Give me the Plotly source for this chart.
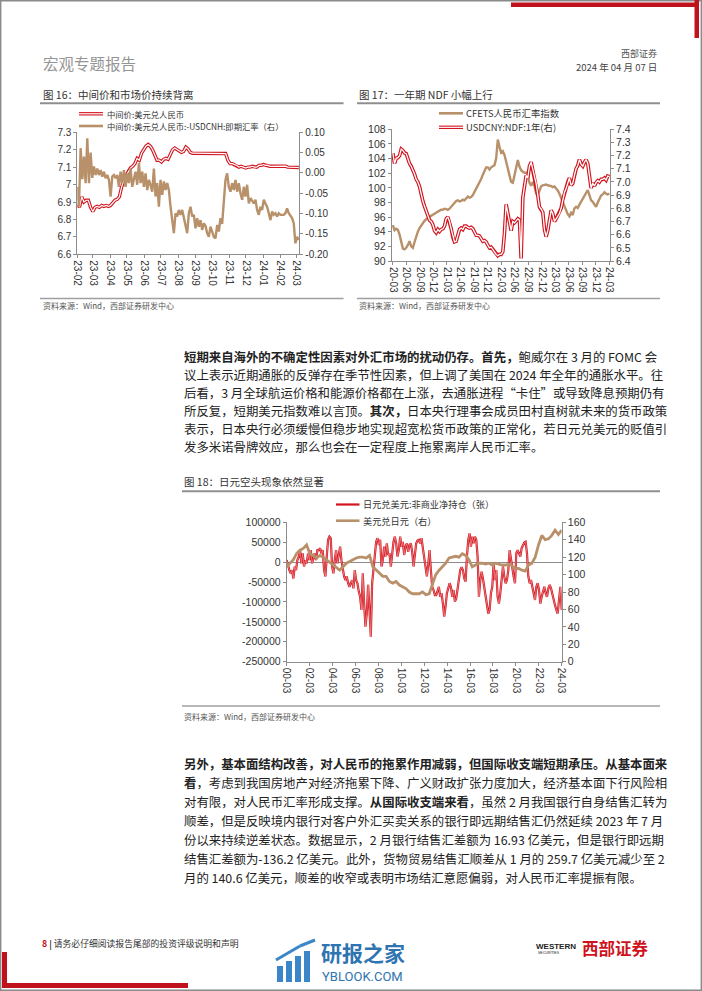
import pandas as pd
import plotly.graph_objects as go

# ---------------- DATA ----------------
# Figure 16 : CNY central parity (left) and parity minus USDCNH spot (right)
c16_ticks = ["23-02", "23-03", "23-04", "23-05", "23-06", "23-07", "23-08",
             "23-09", "23-10", "23-11", "23-12", "24-01", "24-02", "24-03"]
c16_left_labels = ["6.6", "6.7", "6.8", "6.9", "7", "7.1", "7.2", "7.3"]
c16_right_labels = ["-0.20", "-0.15", "-0.10", "-0.05", "0.00", "0.05", "0.10"]
c16_mid = [6.89, 6.87, 6.93, 6.90, 6.91, 6.91, 6.87, 6.845, 6.87, 6.875,
           6.87, 6.88, 6.875, 6.88, 6.875, 6.88, 6.895, 6.91, 6.915, 6.93,
           6.985, 7.025, 7.05, 7.075, 7.095, 7.105, 7.12, 7.15, 7.14, 7.18,
           7.20, 7.22, 7.23, 7.22, 7.20, 7.165, 7.14, 7.14, 7.13, 7.145,
           7.15, 7.145, 7.17, 7.20, 7.21, 7.20, 7.19, 7.185, 7.19, 7.215,
           7.205, 7.185, 7.18, 7.18, 7.181, 7.18, 7.179, 7.18, 7.18, 7.181,
           7.18, 7.179, 7.18, 7.18, 7.18, 7.181, 7.18, 7.178, 7.14, 7.12,
           7.12, 7.115, 7.11, 7.10, 7.105, 7.10, 7.095, 7.10, 7.10, 7.105,
           7.10, 7.10, 7.11, 7.11, 7.115, 7.11, 7.11, 7.105, 7.105, 7.105,
           7.105, 7.105, 7.105, 7.106, 7.106, 7.10, 7.10, 7.10, 7.10, 7.098,
           7.098]
c16_spread = [-0.034, -0.083, 0.061, -0.015, 0.040, -0.025, 0.085, -0.025, 0.050, -0.012,
              0.016, -0.005, 0.011, -0.005, 0.007, -0.009, 0.003, -0.013, -0.005, -0.017,
              -0.058, -0.009, -0.005, -0.013, -0.005, -0.034, 0.003, -0.025, 0.007, -0.034,
              -0.001, -0.025, 0.011, -0.034, -0.015, 0.003, -0.029, 0.024, -0.025, 0.003,
              -0.034, -0.001, -0.042, -0.017, -0.030, -0.046, 0.011, -0.058, -0.025, -0.083,
              -0.017, -0.054, -0.021, -0.042, -0.025, -0.042, -0.083, -0.116, -0.148, -0.099,
              -0.107, -0.091, -0.103, -0.091, -0.111, -0.130, -0.148, -0.099, -0.083, -0.107,
              -0.103, -0.136, -0.111, -0.132, -0.116, -0.140, -0.124, -0.130, -0.148, -0.157,
              -0.132, -0.144, -0.157, -0.161, -0.128, -0.144, -0.111, -0.125, -0.075, -0.017,
              -0.001, -0.034, -0.046, -0.025, -0.042, -0.017, -0.046, -0.025, -0.050, -0.066,
              -0.034, -0.058, -0.029, -0.075, -0.062, -0.070, -0.075, -0.066, -0.091, -0.103,
              -0.083, -0.091, -0.066, -0.075, -0.083, -0.099, -0.116, -0.095, -0.103, -0.099,
              -0.107, -0.099, -0.103, -0.103, -0.103, -0.099, -0.087, -0.099, -0.107, -0.111,
              -0.124, -0.173, -0.157, -0.165]

# Figure 17 : CFETS index (left) and USDCNY 1Y NDF (right)
c17_ticks = ["20-03", "20-06", "20-09", "20-12", "21-03", "21-06", "21-09", "21-12",
             "22-03", "22-06", "22-09", "22-12", "23-03", "23-06", "23-09", "23-12", "24-03"]
c17_left_labels = ["90", "92", "94", "96", "98", "100", "102", "104", "106", "108"]
c17_right_labels = ["6.4", "6.5", "6.6", "6.7", "6.8", "6.9", "7.0", "7.1", "7.2", "7.3", "7.4"]
c17_cfets = [94.9, 94.2, 94.4, 94.25, 93.6, 92.5, 91.7, 91.6, 91.8, 92.2,
             92.7, 92.0, 91.8, 92.6, 93.5, 94.0, 94.5, 94.9, 95.3, 95.5,
             95.7, 95.8, 96.0, 96.2, 96.3, 96.45, 96.6, 96.75, 96.9, 97.0,
             97.0, 97.15, 97.1, 97.0, 97.15, 97.4, 97.7, 98.0, 98.2, 98.3,
             98.15, 98.2, 98.4, 98.3, 98.5, 98.8, 98.65, 98.75, 99.0, 99.4,
             99.8, 100.2, 100.6, 101.2, 101.8, 102.4, 102.8, 102.8, 102.5, 102.8,
             103.0, 103.1, 104.0, 106.6, 105.6, 104.8, 105.0, 104.5, 103.6, 102.8,
             101.7, 100.8, 100.7, 101.7, 102.7, 103.8, 102.9, 102.4, 102.2, 102.05,
             102.1, 101.8, 100.7, 100.3, 100.8, 100.3, 99.2, 99.0, 99.6, 100.2,
             100.35, 100.45, 100.45, 100.35, 100.35, 100.25, 100.1, 100.2, 99.9, 99.65,
             99.2, 98.65, 98.0, 97.35, 97.0, 96.4, 96.1, 96.6, 96.3, 97.2,
             97.4, 97.25, 97.7, 98.1, 98.5, 98.9, 99.5, 99.7, 99.0, 98.3,
             98.1, 97.8, 97.4, 98.0, 98.6, 98.95, 99.1, 99.4, 99.2, 99.1,
             99.2]
c17_ndf = [7.218, 7.14, 7.18, 7.185, 7.20, 7.25, 7.24, 7.22, 7.215, 7.175,
           7.14, 7.12, 7.095, 7.06, 7.02, 7.00, 6.965, 6.90, 6.855, 6.815,
           6.775, 6.74, 6.71, 6.70, 6.675, 6.63, 6.615, 6.64, 6.625, 6.64,
           6.645, 6.665, 6.72, 6.735, 6.70, 6.645, 6.58, 6.545, 6.55, 6.60,
           6.64, 6.65, 6.64, 6.665, 6.665, 6.655, 6.65, 6.655, 6.645, 6.62,
           6.595, 6.595, 6.59, 6.57, 6.55, 6.555, 6.545, 6.52, 6.50, 6.505,
           6.49, 6.47, 6.45, 6.44, 6.45, 6.45, 6.47, 6.61, 6.83, 6.76,
           6.70, 6.63, 6.70, 6.69, 6.705, 6.72, 6.71, 6.42, 6.88, 6.97,
           7.05, 7.03, 7.12, 7.15, 7.09, 7.045, 6.99, 6.90, 6.81, 6.795,
           6.77, 6.64, 6.585, 6.63, 6.72, 6.785, 6.76, 6.70, 6.72, 6.745,
           6.76, 6.80, 6.865, 6.92, 6.95, 7.00, 7.03, 6.975, 6.99, 7.05,
           7.10, 7.125, 7.17, 7.135, 7.12, 7.15, 7.17, 7.14, 7.03, 6.955,
           6.99, 6.97, 6.995, 7.01, 7.00, 7.02, 7.02, 7.03, 7.015, 7.045,
           7.04]

# Figure 18 : JPY non-commercial net positions (left) and USDJPY (right)
c18_ticks = ["00-03", "02-03", "04-03", "06-03", "08-03", "10-03", "12-03",
             "14-03", "16-03", "18-03", "20-03", "22-03", "24-03"]
c18_left_labels = ["-250000", "-200000", "-150000", "-100000", "-50000", "0", "50000", "100000"]
c18_right_labels = ["0", "20", "40", "60", "80", "100", "120", "140", "160"]
c18_net = [5000, -11000, -20000, -28000, -20000, -41000, -11000, -20000, 5000, 14000,
           30000, -3000, 22000, -11000, 5000, -3000, 22000, 5000, 30000, -3000,
           14000, 22000, 5000, 30000, 30000, 35000, 22000, 30000, -20000, -36000,
           14000, 56000, 64000, 60000, -11000, -28000, 5000, 30000, -3000, 22000,
           39000, 5000, -20000, -36000, -45000, -36000, -53000, -62000, -53000, -45000,
           -66000, -20000, -45000, -53000, -74000, -87000, -120000, -28000, -104000, -162000,
           -129000, -57000, -120000, -187000, -53000, -20000, 18000, 51000, 60000, 43000,
           56000, -11000, 5000, 39000, 14000, 47000, 18000, 22000, -11000, 22000,
           51000, 64000, 47000, 14000, 30000, 64000, 39000, 51000, 18000, 39000,
           47000, 26000, 43000, 47000, 26000, -11000, 18000, 47000, 54000, 56000,
           47000, 60000, 35000, 9500, -20000, -36000, -7000, 30000, -20000, -62000,
           -70000, -83000, -83000, -70000, -62000, -87000, -78000, -104000, -137000, -112000,
           -78000, -66000, -53000, -62000, -87000, -70000, -99000, -91000, -66000, -41000,
           -20000, -13000, -20000, -41000, -49000, 14000, 56000, 72000, 39000, 64000,
           47000, 64000, 56000, 14000, -87000, -45000, -24000, -41000, -66000, -91000,
           -112000, -129000, -120000, -78000, -62000, -3000, -45000, -20000, -87000, -104000,
           -78000, -45000, -11000, -36000, -53000, -45000, -20000, 30000, 5000, -20000,
           -36000, -53000, 22000, 30000, 22000, 14000, 35000, 43000, 49000, 51000,
           22000, -36000, -53000, -45000, -62000, -70000, -95000, -62000, -53000, -70000,
           -104000, -87000, -70000, -62000, -78000, -87000, -66000, -57000, -66000, -83000,
           -95000, -108000, -120000, -129000, -95000, -62000, -120000]
c18_usdjpy = [109, 113, 117, 124, 128, 130, 134, 124, 122, 119,
              122, 120, 117, 113, 111, 107, 105, 109, 113, 115,
              117, 119, 120, 120, 119, 122, 109, 105, 101, 98,
              98, 92, 90, 92, 88, 86, 84, 80, 78, 78,
              78, 80, 77, 78, 90, 100, 105, 109, 113, 119,
              120, 121, 120, 124, 122, 117, 109, 111, 113, 113,
              112, 113, 111, 113, 112, 111, 111, 112, 110, 107,
              107, 105, 104, 111, 113, 120, 134, 145, 140, 141,
              145, 151, 146, 151]

# ---------------- STYLE / HELPERS ----------------
W, H = 702, 991
RED = "#D2141E"
BROWN = "#B8916A"
AX = "#8C8C8C"
TXT = "#333333"
CJK = "Noto Sans CJK SC"
LAT = "Liberation Sans, Arial, sans-serif"


def px(x):
    return x / W


def py(y):
    return 1 - y / H


def tick_dates(labels):
    return ["20" + t[:2] + "-" + t[3:] + "-01" for t in labels]


fig = go.Figure()


def line_trace(x, y, xa, ya, color, width):
    fig.add_trace(go.Scatter(x=x, y=y, xaxis=xa, yaxis=ya, mode="lines",
                             line=dict(color=color, width=width), hoverinfo="skip",
                             showlegend=False))


# chart 16
d16a = pd.date_range("2023-02-01", "2024-03-05", periods=len(c16_mid))
d16b = pd.date_range("2023-02-01", "2024-03-05", periods=len(c16_spread))
line_trace(d16a, c16_mid, "x", "y", RED, 3.4)
line_trace(d16a, c16_mid, "x", "y", "white", 1.2)
line_trace(d16b, c16_spread, "x", "y2", BROWN, 2.4)

# chart 17
d17a = pd.date_range("2020-03-01", "2024-03-01", periods=len(c17_cfets))
d17b = pd.date_range("2020-03-01", "2024-03-01", periods=len(c17_ndf))
line_trace(d17a, c17_cfets, "x2", "y3", BROWN, 2.4)
line_trace(d17b, c17_ndf, "x2", "y4", RED, 3.6)
line_trace(d17b, c17_ndf, "x2", "y4", "white", 1.3)

# chart 18
d18a = pd.date_range("2000-03-01", "2024-03-01", periods=len(c18_net))
d18b = pd.date_range("2000-03-01", "2024-03-01", periods=len(c18_usdjpy))
line_trace(d18a, c18_net, "x3", "y5", RED, 2.2)
line_trace(d18a, c18_net, "x3", "y5", "#F29A9A", 0.7)
line_trace(d18b, c18_usdjpy, "x3", "y6", BROWN, 2.8)

xbase = dict(type="date", showline=True, linecolor=AX, linewidth=1, ticks="outside",
             ticklen=3, tickcolor=AX, showgrid=False, zeroline=False, tickangle=90,
             automargin=False, tickfont=dict(family=LAT, size=10, color=TXT))
ybase = dict(showline=True, linecolor=AX, linewidth=1, ticks="outside", ticklen=3,
             tickcolor=AX, showgrid=False, zeroline=False, automargin=False,
             tickfont=dict(family=LAT, size=10.5, color=TXT))


def yax(labels, rng, **kw):
    d = dict(ybase)
    d.update(range=rng, tickmode="array", tickvals=[float(t) for t in labels], ticktext=labels)
    d.update(kw)
    return d


def xax(labels, rng, **kw):
    d = dict(xbase)
    d.update(range=rng, tickmode="array", tickvals=tick_dates(labels), ticktext=labels)
    d.update(kw)
    return d


fig.update_layout(
    width=W, height=H, margin=dict(l=0, r=0, t=0, b=0), template="none",
    paper_bgcolor="white", plot_bgcolor="rgba(0,0,0,0)", showlegend=False, hovermode=False,
    xaxis=xax(c16_ticks, ["2023-02-01", "2024-03-06"], domain=[px(77.3), px(299.3)], anchor="y"),
    yaxis=yax(c16_left_labels, [6.6, 7.3], domain=[py(254.3), py(132.3)], anchor="x",
              tickfont=dict(family=LAT, size=10, color=TXT)),
    yaxis2=yax(c16_right_labels, [-0.2, 0.1], overlaying="y", side="right", anchor="x",
               tickfont=dict(family=LAT, size=10, color=TXT)),
    xaxis2=xax(c17_ticks, ["2020-02-22", "2024-03-05"], domain=[px(391.7), px(610)], anchor="y3"),
    yaxis3=yax(c17_left_labels, [90, 108], domain=[py(261), py(129.3)], anchor="x2"),
    yaxis4=yax(c17_right_labels, [6.4, 7.4], overlaying="y3", side="right", anchor="x2"),
    xaxis3=xax(c18_ticks, ["2000-03-01", "2024-03-01"], domain=[px(286.7), px(561.7)], anchor="y5"),
    yaxis5=yax(c18_left_labels, [-250000, 100000], domain=[py(661.7), py(522.3)], anchor="x3",
               zeroline=True, zerolinecolor=AX, zerolinewidth=1),
    yaxis6=yax(c18_right_labels, [0, 160], overlaying="y5", side="right", anchor="x3"),
)


# ---------------- DECORATION ----------------
def hline(x0, x1, y, color="#9A9A9A", w=1.5):
    fig.add_shape(type="line", xref="paper", yref="paper", x0=px(x0), x1=px(x1),
                  y0=py(y), y1=py(y), line=dict(color=color, width=w))


def rect(x0, y0, x1, y1, color):
    fig.add_shape(type="rect", xref="paper", yref="paper", x0=px(x0), x1=px(x1),
                  y0=py(y1), y1=py(y0), fillcolor=color, line_width=0)


def text(x, y, s, size, color=TXT, anchor="left", family=CJK):
    fig.add_annotation(x=px(x), y=py(y), xref="paper", yref="paper", text=s, showarrow=False,
                       xanchor=anchor, yanchor="middle", borderpad=0,
                       font=dict(family=family, size=size, color=color))


def swatch(x0, x1, y, kind):
    if kind == "double":
        hline(x0, x1, y, RED, 3.4)
        hline(x0, x1, y, "white", 1.2)
    elif kind == "red":
        hline(x0, x1, y, RED, 2.2)
    else:
        hline(x0, x1, y, BROWN, 2.6)


# page frame and corner marks
fig.add_shape(type="rect", xref="paper", yref="paper", x0=px(0.7), x1=px(701.3),
              y0=py(990.3), y1=py(0.7), line=dict(color="#8A8A8A", width=1.4))
rect(511, 2.5, 699, 7, "#C0121C")
rect(694.5, 0, 699, 38, "#C0121C")
rect(2, 952, 7, 988, "#C0121C")
rect(2, 983, 188, 988, "#C0121C")

# header
text(42, 63.3, "宏观专题报告", 15.5, "#959595")
text(658, 53, "西部证券", 9, "#555555", anchor="right")
text(658, 66.7, "2024 年 04 月 07 日", 9.5, "#444444", anchor="right")

# figure 16 / 17 titles and rules
text(42, 94.5, "图 16：中间价和市场价持续背离", 10.5)
text(358, 94.5, "图 17：一年期 NDF 小幅上行", 10.5)
hline(40, 343.5, 103.3, "#8F8F8F", 2)
hline(357, 660, 103.3, "#8F8F8F", 2)
hline(40, 343.5, 298.5, "#A0A0A0", 1.5)
hline(357, 660, 298.5, "#A0A0A0", 1.5)
text(42, 305.5, "资料来源：Wind，西部证券研发中心", 8, "#555555")
text(358, 305.5, "资料来源：Wind，西部证券研发中心", 8, "#555555")

# legends figure 16
swatch(79, 103, 113.8, "double")
text(106, 113.8, "中间价:美元兑人民币", 8.3)
swatch(79, 103, 126.0, "brown")
text(106, 126.0, "中间价:美元兑人民币:-USDCNH:即期汇率（右）", 8.3)
# legends figure 17
swatch(439, 463, 113.3, "brown")
text(465, 113.3, "CFETS人民币汇率指数", 9.4)
swatch(439, 463, 127.3, "double")
text(465, 127.3, "USDCNY:NDF:1年(右)", 9.4)

# paragraph 1
p1 = [
    "<b>短期来自海外的不确定性因素对外汇市场的扰动仍存。首先，</b>鲍威尔在 3 月的 FOMC 会",
    "议上表示近期通胀的反弹存在季节性因素，但上调了美国在 2024 年全年的通胀水平。往",
    "后看，3 月全球航运价格和能源价格都在上涨，去通胀进程“卡住”或导致降息预期仍有",
    "所反复，短期美元指数难以言顶。<b>其次，</b>日本央行理事会成员田村直树就未来的货币政策",
    "表示，日本央行必须缓慢但稳步地实现超宽松货币政策的正常化，若日元兑美元的贬值引",
    "发多米诺骨牌效应，那么也会在一定程度上拖累离岸人民币汇率。",
]
for i, s in enumerate(p1):
    text(182.5, 357.3 + 18.0 * i, s, 12.4, "#222222")

# figure 18 title, legend, rules
text(182.5, 481.5, "图 18：日元空头现象依然显著", 10.5)
hline(182, 660, 491.3, "#8F8F8F", 2)
swatch(336, 359.5, 504.5, "red")
text(362, 504.5, "日元兑美元:非商业净持仓（张）", 9.2)
swatch(336, 359.5, 520.7, "brown")
text(362, 520.7, "美元兑日元（右）", 9.2)
hline(182, 660, 706, "#A0A0A0", 1.5)
text(182.5, 716.7, "资料来源：Wind，西部证券研发中心", 8, "#555555")

# paragraph 2
p2 = [
    "<b>另外，基本面结构改善，对人民币的拖累作用减弱，但国际收支端短期承压。从基本面来</b>",
    "<b>看</b>，考虑到我国房地产对经济拖累下降、广义财政扩张力度加大，经济基本面下行风险相",
    "对有限，对人民币汇率形成支撑。<b>从国际收支端来看</b>，虽然 2 月我国银行自身结售汇转为",
    "顺差，但是反映境内银行对客户外汇买卖关系的银行即远期结售汇仍然延续 2023 年 7 月",
    "份以来持续逆差状态。数据显示，2 月银行结售汇差额为 16.93 亿美元，但是银行即远期",
    "结售汇差额为-136.2 亿美元。此外，货物贸易结售汇顺差从 1 月的 259.7 亿美元减少至 2",
    "月的 140.6 亿美元，顺差的收窄或表明市场结汇意愿偏弱，对人民币汇率提振有限。",
]
for i, s in enumerate(p2):
    text(182.5, 764.3 + 19.0 * i, s, 12.4, "#222222")

# footer
text(41, 943, "<b><span style='color:#C0121C'>8</span></b> <b>|</b> 请务必仔细阅读报告尾部的投资评级说明和声明",
     8.8, "#333333")
# watermark logo (decoration)
WM = "#3A86C8"
rect(277, 966, 283, 982, WM)
rect(286, 961, 292, 982, WM)
rect(295, 956, 301, 982, WM)
rect(304, 951, 310, 982, WM)
fig.add_shape(type="line", xref="paper", yref="paper", x0=px(276), y0=py(960), x1=px(300),
              y1=py(946), line=dict(color=WM, width=3))
fig.add_shape(type="line", xref="paper", yref="paper", x0=px(300), y0=py(946), x1=px(315),
              y1=py(940), line=dict(color=WM, width=3))
text(320, 952, "<b>研报之家</b>", 21, "#2E74B0")
text(321, 976.5, "YBLOOK.COM", 13, "#2E74B0", family="Roboto, Liberation Sans")
# company logo
text(535, 946.5, "<b>WESTERN</b>", 8, "#222222", family=LAT)
text(537, 953, "SECURITIES", 3.5, "#222222", family=LAT)
text(581, 948, "<b>西部证券</b>", 16.5, "#D0121C")

fig.write_html("out.html", config={"displayModeBar": False})
